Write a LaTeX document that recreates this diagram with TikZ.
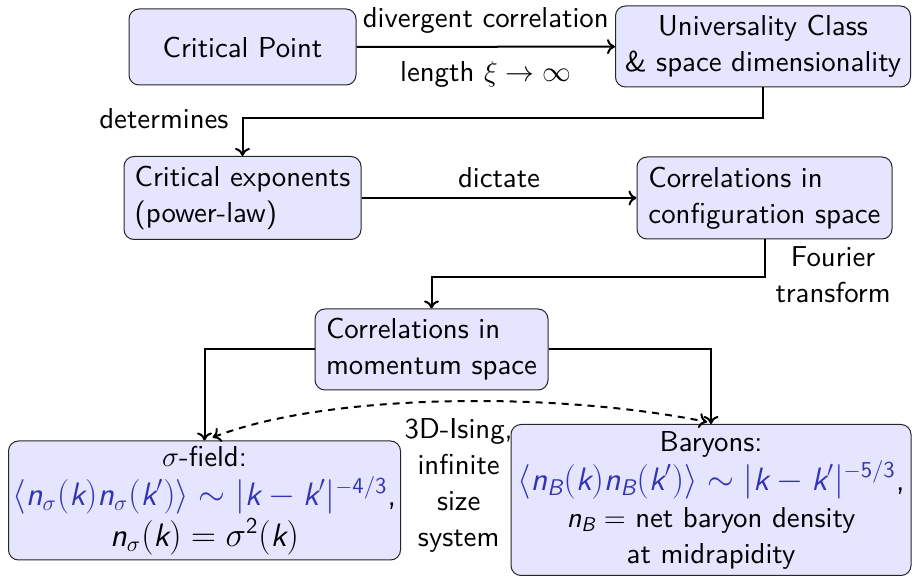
\documentclass[tikz,border=0pt]{standalone}
\usepackage{amsmath}
\usepackage{fontspec}
\setsansfont{lmsans10-regular.otf}[ItalicFont=lmsans10-oblique.otf,BoldFont=lmsans10-bold.otf]
\renewcommand\familydefault{\sfdefault}
\usetikzlibrary{arrows.meta}
\definecolor{struct}{RGB}{51,51,179}
\definecolor{boxfill}{RGB}{229,229,255}
\newcommand\sv[1]{\text{\normalfont\sffamily\itshape #1}}
\newcommand\sd[1]{\text{\normalfont\sffamily #1}}
\newcommand\bigmath{\fontsize{16.2}{18}\selectfont}
\begin{document}
\begin{tikzpicture}[x=0.5pt,y=-0.5pt,
  font=\sffamily\fontsize{14.4}{18}\selectfont,
  >={To[length=4pt,width=7.5pt]},
  box/.style={draw=black!85, line width=0.5pt, fill=boxfill, rounded corners=5pt, inner sep=0pt, align=center},
  conn/.style={line width=1pt, ->},
  lbl/.style={inner sep=0pt, align=center}]
\useasboundingbox (0,0) rectangle (912,577);

\node[box, minimum width=113.5pt, minimum height=38pt] (cp) at (242.5,47) {Critical Point};
\node[box, minimum width=147.5pt, minimum height=40.5pt] (uc) at (763,46.5) {Universality Class\\ \& space dimensionality};
\node[box, align=left, minimum width=118.5pt, minimum height=41.5pt] (ce) at (242.5,198) {Critical exponents\\(power-law)};
\node[box, align=left, minimum width=127.5pt, minimum height=41pt] (ccs) at (764.5,198) {Correlations in\\configuration space};
\node[box, align=left, minimum width=116.5pt, minimum height=40.5pt] (cm) at (431.5,349.5) {Correlations in\\momentum space};
\node[box, minimum width=196pt, minimum height=59.5pt] (sig) at (204.5,500.5) {$\sigma$-field:\\[1.5pt]
  {\bigmath\textcolor{struct}{$\langle \sv{n}_\sigma(\sv{k})\sv{n}_\sigma(\sv{k}')\rangle\sim|\sv{k}-\sv{k}'|^{-\sd{4/3}}$},}\\[1pt]
  {\bigmath$\sv{n}_\sigma(\sv{k})=\sigma^{\sd{2}}(\sv{k})$}};
\node[box, minimum width=200pt, minimum height=75.5pt] (bar) at (711,500) {Baryons:\\[1.5pt]
  {\bigmath\textcolor{struct}{$\langle \sv{n}_{\sv{B}}(\sv{k})\sv{n}_{\sv{B}}(\sv{k}')\rangle\sim|\sv{k}-\sv{k}'|^{-\sd{5/3}}$},}\\[0.5pt]
  $\sv{n}_{\sv{B}}=$ net baryon density\\ at midrapidity};

\draw[conn] (cp) -- (uc)
  node[lbl, midway, above=6pt] {divergent correlation}
  node[lbl, midway, below=7pt] {length $\xi\to\infty$};
\draw[conn] (uc.south) -- ++(0,31) -| node[lbl, pos=0.5, anchor=base east, xshift=-6.5pt, yshift=-5pt] {determines} (ce.north);
\draw[conn] (ce) -- (ccs) node[lbl, midway, above=4.5pt] {dictate};
\draw[conn] (ccs.south) -- ++(0,38) node[lbl, anchor=west, xshift=5pt, yshift=1.5pt] {Fourier\\transform} -| (cm.north);
\draw[conn] (cm.west) -| (sig.north);
\draw[conn] (cm.east) -| (bar.north);
\draw[line width=1pt, <->, dash pattern=on 3.5pt off 3pt] ([xshift=4pt,yshift=1.5pt]sig.north) .. controls (330,392) and (560,392) .. ([xshift=-2pt,yshift=1pt]bar.north)
  node[lbl, pos=0.5, below=8pt, xshift=5pt] {3D-Ising,\\infinite\\size\\system};
\end{tikzpicture}
\end{document}
